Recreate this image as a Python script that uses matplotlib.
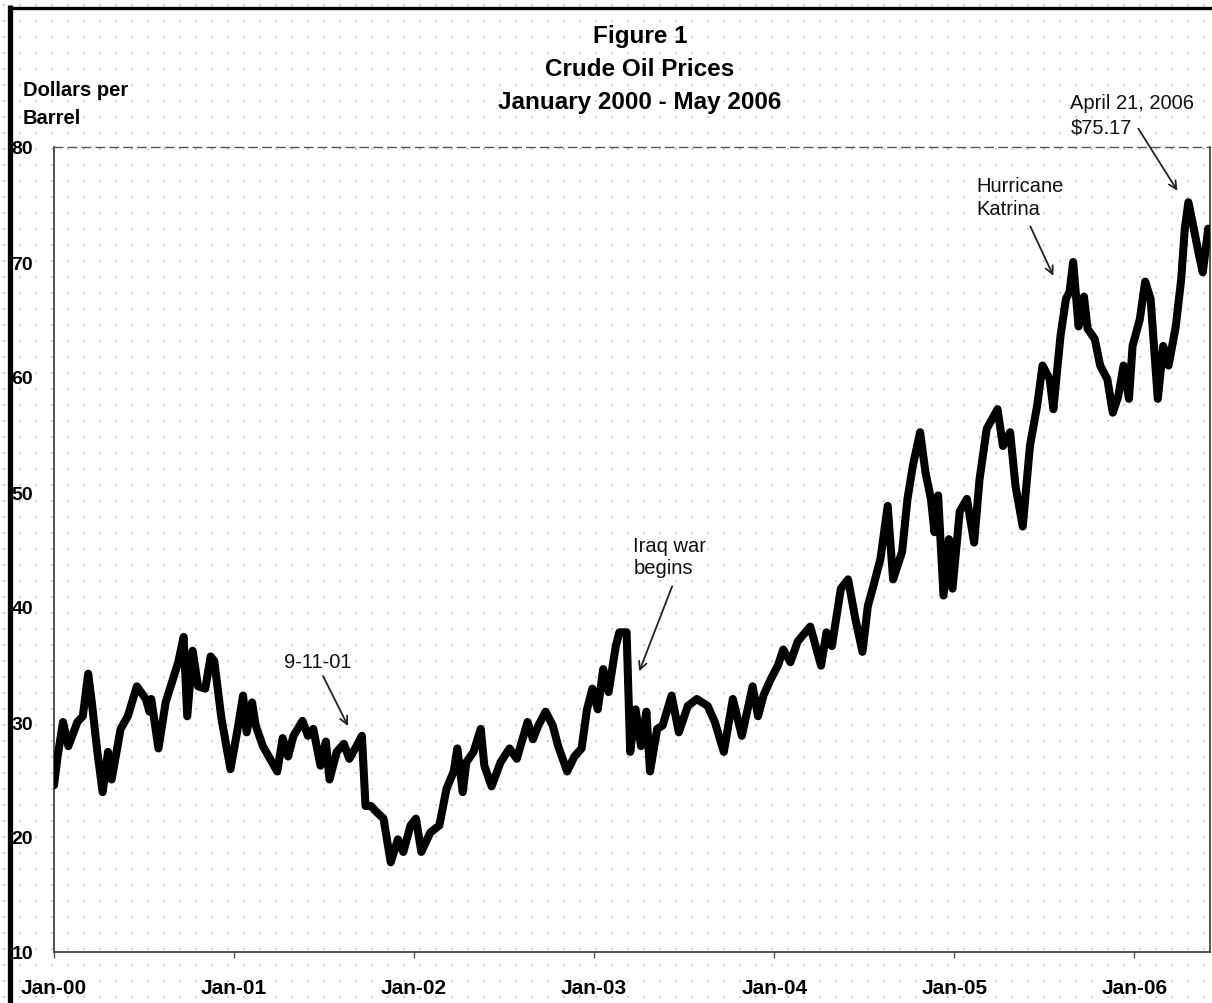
import numpy as np
import matplotlib
matplotlib.use("Agg")
import matplotlib.pyplot as plt
from matplotlib.lines import Line2D

# ---- data (decimal year, dollars per barrel) ----
years = [
    2000.00, 2000.02, 2000.05, 2000.08, 2000.13, 2000.16, 2000.19, 2000.21, 2000.24, 2000.27,
    2000.30, 2000.32, 2000.37, 2000.41, 2000.46, 2000.51, 2000.53, 2000.54, 2000.58, 2000.62,
    2000.66, 2000.69, 2000.72, 2000.74, 2000.77, 2000.80, 2000.84, 2000.87, 2000.89, 2000.93,
    2000.98, 2001.02, 2001.05, 2001.07, 2001.10, 2001.12, 2001.16, 2001.20, 2001.24, 2001.27,
    2001.30, 2001.33, 2001.38, 2001.41, 2001.44, 2001.48, 2001.51, 2001.53, 2001.57, 2001.61,
    2001.64, 2001.68, 2001.71, 2001.73, 2001.76, 2001.79, 2001.83, 2001.87, 2001.91, 2001.94,
    2001.98, 2002.01, 2002.04, 2002.09, 2002.14, 2002.18, 2002.22, 2002.24, 2002.27, 2002.29,
    2002.33, 2002.37, 2002.39, 2002.43, 2002.48, 2002.53, 2002.57, 2002.63, 2002.66, 2002.69,
    2002.73, 2002.77, 2002.80, 2002.85, 2002.89, 2002.93, 2002.96, 2002.99, 2003.02, 2003.05,
    2003.08, 2003.12, 2003.14, 2003.18, 2003.20, 2003.23, 2003.26, 2003.29, 2003.31, 2003.35,
    2003.38, 2003.43, 2003.47, 2003.52, 2003.57, 2003.63, 2003.67, 2003.72, 2003.77, 2003.82,
    2003.88, 2003.91, 2003.94, 2003.98, 2004.02, 2004.05, 2004.09, 2004.13, 2004.20, 2004.26,
    2004.29, 2004.32, 2004.37, 2004.41, 2004.45, 2004.49, 2004.52, 2004.55, 2004.59, 2004.63,
    2004.66, 2004.71, 2004.74, 2004.77, 2004.81, 2004.84, 2004.87, 2004.89, 2004.91, 2004.94,
    2004.97, 2004.99, 2005.03, 2005.07, 2005.11, 2005.14, 2005.18, 2005.24, 2005.27, 2005.31,
    2005.34, 2005.38, 2005.42, 2005.46, 2005.49, 2005.53, 2005.55, 2005.59, 2005.62, 2005.64,
    2005.66, 2005.69, 2005.72, 2005.74, 2005.78, 2005.81, 2005.85, 2005.88, 2005.91, 2005.94,
    2005.97, 2005.99, 2006.03, 2006.06, 2006.09, 2006.13, 2006.16, 2006.19, 2006.23, 2006.26,
    2006.28, 2006.30, 2006.33, 2006.36, 2006.38, 2006.41,
]
prices = [
    24.5, 27.0, 30.0, 27.9, 30.0, 30.5, 34.2, 31.7, 27.5, 23.9,
    27.4, 25.0, 29.4, 30.5, 33.1, 32.0, 30.9, 32.0, 27.7, 31.7,
    33.7, 35.2, 37.4, 30.5, 36.2, 33.1, 32.9, 35.7, 35.3, 30.3,
    25.9, 29.4, 32.3, 29.1, 31.7, 29.7, 27.9, 26.8, 25.7, 28.6,
    27.0, 28.8, 30.1, 28.8, 29.4, 26.2, 28.3, 25.0, 27.4, 28.1,
    26.8, 27.9, 28.8, 22.7, 22.7, 22.2, 21.6, 17.8, 19.8, 18.7,
    21.0, 21.6, 18.7, 20.4, 21.0, 24.2, 25.7, 27.7, 23.9, 26.5,
    27.4, 29.4, 26.2, 24.4, 26.5, 27.7, 26.8, 30.0, 28.5, 29.7,
    30.9, 29.7, 27.9, 25.7, 27.0, 27.7, 31.1, 32.9, 31.1, 34.6,
    32.6, 36.6, 37.8, 37.8, 27.4, 31.1, 27.9, 30.9, 25.7, 29.4,
    29.7, 32.3, 29.1, 31.4, 32.0, 31.4, 30.0, 27.4, 32.0, 28.8,
    33.1, 30.5, 32.3, 33.7, 34.9, 36.3, 35.2, 37.0, 38.3, 34.9,
    37.8, 36.6, 41.6, 42.4, 39.0, 36.1, 40.1, 41.8, 44.2, 48.8,
    42.4, 44.8, 49.4, 52.3, 55.2, 51.7, 49.4, 46.5, 49.7, 41.0,
    45.9, 41.6, 48.3, 49.4, 45.6, 51.1, 55.5, 57.2, 54.0, 55.2,
    50.5, 47.0, 54.0, 57.5, 61.0, 59.8, 57.2, 63.6, 66.8, 67.4,
    70.0, 64.4, 67.0, 64.2, 63.3, 61.0, 59.8, 56.9, 58.3, 61.0,
    58.1, 62.7, 65.0, 68.3, 66.8, 58.1, 62.7, 61.0, 64.4, 68.5,
    72.9, 75.2, 72.9, 70.5, 69.1, 72.9,
]

tick_years = [2000, 2001, 2002, 2003, 2004, 2005, 2006]
tick_labels = ["Jan-00", "Jan-01", "Jan-02", "Jan-03", "Jan-04", "Jan-05", "Jan-06"]
y_ticks = [10, 20, 30, 40, 50, 60, 70, 80]

title_lines = ["Figure 1", "Crude Oil Prices", "January 2000 - May 2006"]

# annotations: (text, text_xy, arrow_start, arrow_end, ha, linespacing)
annotations = [
    ("9-11-01", (2001.467, 35.3), (2001.494, 34.0), (2001.633, 29.65), "center", 1.2),
    ("Iraq war\nbegins", (2003.217, 44.4), (2003.433, 41.8), (2003.25, 34.4), "left", 1.25),
    ("Hurricane\nKatrina", (2005.122, 75.65), (2005.422, 73.1), (2005.55, 68.8), "left", 1.3),
    ("April 21, 2006\n$75.17", (2005.644, 82.8), (2006.022, 81.6), (2006.239, 76.2), "left", 1.35),
]

W, H = 1212, 1004
plt.rcParams["font.family"] = ["Liberation Sans", "DejaVu Sans"]
fig = plt.figure(figsize=(W / 100, H / 100), dpi=100)
fig.patch.set_facecolor("white")

# dotted paper texture over the whole figure
bg = fig.add_axes([0, 0, 1, 1], zorder=-5)
bg.set_xlim(0, W)
bg.set_ylim(H, 0)
bg.axis("off")
gx, gy = np.meshgrid(np.arange(4, W, 16), np.arange(6, H, 16))
bg.scatter(gx.ravel(), gy.ravel(), s=1.0, marker="s", color="#cfcfcf", linewidths=0)

ax_left, ax_right = 54 / W, 1210 / W
ax_bottom, ax_top = 1 - 953 / H, 1 - 148 / H
ax = fig.add_axes([ax_left, ax_bottom, ax_right - ax_left, ax_top - ax_bottom])
ax.patch.set_alpha(0)

ax.plot(years, prices, color="black", lw=5.8, solid_joinstyle="round",
        solid_capstyle="round", zorder=3)

ax.set_xlim(2000.0, 2006.42)
ax.set_ylim(10, 80)
ax.set_xticks(tick_years)
ax.set_xticklabels(tick_labels)
ax.set_yticks(y_ticks)
ax.set_yticklabels([str(v) for v in y_ticks])
for lab in ax.get_xticklabels():
    lab.set_fontweight("bold")
    lab.set_fontsize(15)
for lab in ax.get_yticklabels():
    lab.set_fontweight("bold")
    lab.set_fontsize(14)
ax.tick_params(axis="x", length=4, width=1, color="#555555", pad=15, direction="out")
ax.tick_params(axis="y", length=0, pad=15)

for side in ["left", "bottom", "right"]:
    ax.spines[side].set_color("#444444")
    ax.spines[side].set_linewidth(1.3)
ax.spines["top"].set_color("#555555")
ax.spines["top"].set_linewidth(1.0)
ax.spines["top"].set_linestyle((0, (6, 4)))

for text, txy, a0, a1, ha, ls in annotations:
    ax.text(txy[0], txy[1], text, ha=ha, va="center", fontsize=14.5,
            linespacing=ls, color="#111111", clip_on=False)
    ax.annotate("", xy=a1, xytext=a0, annotation_clip=False,
                arrowprops=dict(arrowstyle="->", color="#222222", lw=1.3,
                                shrinkA=0, shrinkB=0, mutation_scale=14))

# titles
title_y = [36, 70, 103]
for t, yy in zip(title_lines, title_y):
    fig.text(640 / W, 1 - yy / H, t, ha="center", va="center",
             fontsize=17.5, fontweight="bold")

fig.text(23 / W, 1 - 91 / H, "Dollars per", ha="left", va="center",
         fontsize=14.5, fontweight="bold")
fig.text(23 / W, 1 - 118 / H, "Barrel", ha="left", va="center",
         fontsize=14.5, fontweight="bold")

# scanned page border (left and top)
fig.add_artist(Line2D([9.5 / W, 9.5 / W], [0, 1 - 6 / H], transform=fig.transFigure,
                      color="black", lw=3.8, solid_capstyle="butt"))
fig.add_artist(Line2D([7.6 / W, 1], [1 - 8.5 / H, 1 - 8.5 / H], transform=fig.transFigure,
                      color="black", lw=2.4, solid_capstyle="butt"))

fig.savefig("out.png", dpi=100, facecolor="white")
